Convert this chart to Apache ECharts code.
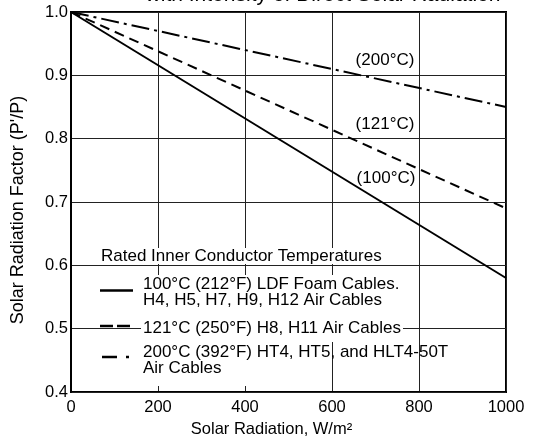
<!DOCTYPE html>
<html>
<head>
<meta charset="utf-8">
<script src="https://cdn.jsdelivr.net/npm/echarts@6/dist/echarts.min.js"></script>
<style>
  html, body { margin: 0; padding: 0; background: #fff; }
  #chart { width: 535px; height: 444px; }
</style>
</head>
<body>
<div id="chart"></div>
<script>
var radiation = [0, 1000];
var factor100 = [1.0, 0.58];
var factor121 = [1.0, 0.69];
var factor200 = [1.0, 0.85];

var curveLabels = ['(200°C)', '(121°C)', '(100°C)'];
var legendTitle = 'Rated Inner Conductor Temperatures';
var legendTexts = [
  '100°C (212°F) LDF Foam Cables.\nH4, H5, H7, H9, H12 Air Cables',
  '121°C (250°F) H8, H11 Air Cables',
  '200°C (392°F) HT4, HT5, and HLT4-50T\nAir Cables'
];
var chartTitle = 'with Intensity of Direct Solar Radiation';

var FONT = '"Liberation Sans", Arial, Helvetica, sans-serif';

function pairs(xs, ys) {
  var out = [];
  for (var i = 0; i < xs.length; i++) out.push([xs[i], ys[i]]);
  return out;
}

function lineSeries(name, values, type) {
  return {
    name: name,
    type: 'line',
    z: 3,
    data: pairs(radiation, values),
    symbol: 'none',
    silent: true,
    lineStyle: { color: '#000', width: 2, type: type }
  };
}

function txt(x, y, text, opts) {
  var style = {
    text: text,
    x: 0, y: 0,
    fill: '#000',
    font: '17px ' + FONT,
    lineHeight: 16,
    align: 'left',
    verticalAlign: 'middle'
  };
  for (var k in opts) style[k] = opts[k];
  return { type: 'text', x: x, y: y, z: 4, style: style };
}

function sample(x1, x2, y, dash) {
  return {
    type: 'line', z: 4,
    shape: { x1: x1, y1: y, x2: x2, y2: y },
    style: { stroke: '#000', lineWidth: 2.5, lineDash: dash }
  };
}

var chart = echarts.init(document.getElementById('chart'));

chart.setOption({
  animation: false,
  backgroundColor: '#fff',
  textStyle: { fontFamily: FONT },
  grid: {
    left: 71, top: 12, right: 29, bottom: 52,
    show: true, borderColor: '#000', borderWidth: 2
  },
  xAxis: {
    type: 'value', min: 0, max: 1000, interval: 200, z: 0,
    name: 'Solar Radiation, W/m²',
    nameLocation: 'middle', nameGap: 29,
    nameTextStyle: { color: '#000', fontSize: 16.5, padding: [0, 34, 0, 0] },
    axisLine: { lineStyle: { color: '#000', width: 2 } },
    axisTick: { show: false },
    axisLabel: {
      color: '#000', fontSize: 16.5, margin: 7,
      formatter: function (v) { return String(v); }
    },
    splitLine: { show: true, lineStyle: { color: '#222', width: 1 } }
  },
  yAxis: {
    type: 'value', min: 0.4, max: 1.0, interval: 0.1, z: 2,
    name: "Solar Radiation Factor (P'/P)",
    nameLocation: 'middle', nameGap: 44,
    nameTextStyle: { color: '#000', fontSize: 18, padding: [0, 16, 0, 0] },
    axisLine: { lineStyle: { color: '#000', width: 2 } },
    axisTick: { show: false },
    axisLabel: {
      color: '#000', fontSize: 16.5, margin: 3, padding: [4, 0, 0, 0],
      formatter: function (v) { return v.toFixed(1); }
    },
    splitLine: { show: true, lineStyle: { color: '#222', width: 1 } }
  },
  series: [
    lineSeries('100', factor100, 'solid'),
    lineSeries('121', factor121, [10, 6]),
    lineSeries('200', factor200, [18, 5, 3, 5])
  ],
  graphic: [
    // white patches where the legend hides the vertical grid
    { type: 'rect', z: 1, shape: { x: 95, y: 275, width: 275, height: 67 }, style: { fill: '#fff' } },
    { type: 'rect', z: 1, shape: { x: 95, y: 342, width: 205, height: 44 }, style: { fill: '#fff' } },

    txt(323, -4.5, chartTitle, { font: '21px ' + FONT, align: 'center' }),

    txt(385, 60, curveLabels[0], { align: 'center' }),
    txt(385, 124, curveLabels[1], { align: 'center' }),
    txt(386, 178, curveLabels[2], { align: 'center' }),

    txt(99, 256, legendTitle, { backgroundColor: '#fff', padding: [0, 2, 0, 2] }),
    sample(100, 133, 290.5, null),
    txt(143, 292.5, legendTexts[0], { backgroundColor: '#fff' }),
    sample(100, 130, 326, [13, 4]),
    txt(141, 328, legendTexts[1], { backgroundColor: '#fff', padding: [0, 2, 0, 2] }),
    sample(102, 129, 357, [15, 9, 3, 100]),
    txt(143, 360, legendTexts[2], {})
  ]
});
</script>
</body>
</html>
